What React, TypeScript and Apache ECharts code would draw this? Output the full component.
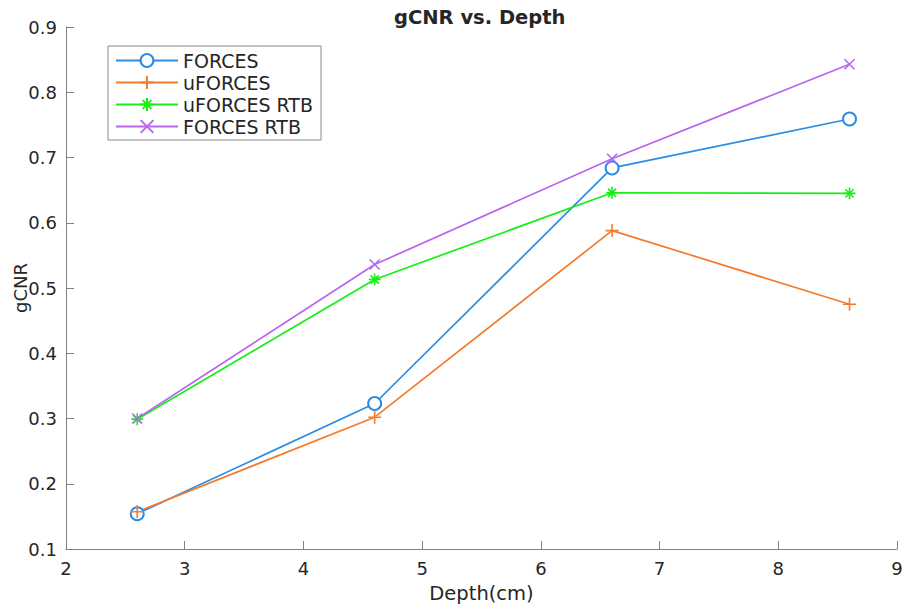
import React, { useEffect, useRef } from "react";
import * as echarts from "echarts";

const depths = [2.6, 4.6, 6.6, 8.6];
const seriesNames = ["FORCES", "uFORCES", "uFORCES RTB", "FORCES RTB"];
const forces = [0.154, 0.323, 0.684, 0.759];
const uForces = [0.157, 0.302, 0.588, 0.475];
const uForcesRtb = [0.299, 0.513, 0.646, 0.645];
const forcesRtb = [0.300, 0.536, 0.698, 0.843];
const xTicks = { min: 2, max: 9, interval: 1 };
const yTicks = { min: 0.1, max: 0.9, interval: 0.1 };
const title = "gCNR vs. Depth";
const xName = "Depth(cm)";
const yName = "gCNR";

const colors = ["#2b8de2", "#f47b2c", "#16ef16", "#b865f2"];
const PLUS = "path://M5,0L5,10M0,5L10,5";
const STAR = "path://M5,0L5,10M0,5L10,5M1.6,1.6L8.4,8.4M1.6,8.4L8.4,1.6";
const CROSS = "path://M0,0L10,10M0,10L10,0";
const FONT = "DejaVu Sans";
const TEXT = "#262626";
const AXIS = "#7f7f7f";

export default function App() {
  const ref = useRef<HTMLDivElement>(null);
  useEffect(() => {
    if (!ref.current) return;
    const chart = echarts.init(ref.current, undefined, { renderer: "svg" });
    const values = [forces, uForces, uForcesRtb, forcesRtb];
    const symbols = ["emptyCircle", PLUS, STAR, CROSS];
    const sizes = [13, 13, 12, 10];
    chart.setOption({
      animation: false,
      backgroundColor: "#ffffff",
      title: {
        text: title,
        left: 389,
        top: 2,
        textStyle: { fontFamily: FONT, fontSize: 19.5, fontWeight: "bold", color: TEXT },
      },
      legend: {
        orient: "vertical",
        left: 108,
        top: 46,
        padding: [4, 8, 3, 7],
        itemWidth: 62,
        itemHeight: 16,
        itemGap: 1,
        borderColor: "#8a8a8a",
        borderWidth: 1,
        backgroundColor: "#ffffff",
        textStyle: { fontFamily: FONT, fontSize: 19, lineHeight: 21, color: TEXT },
        data: seriesNames,
      },
      grid: {
        left: 66,
        right: 7,
        top: 27,
        bottom: 62,
        containLabel: false,
        outerBoundsMode: "none",
      },
      xAxis: {
        type: "value",
        min: xTicks.min,
        max: xTicks.max,
        interval: xTicks.interval,
        name: xName,
        nameLocation: "middle",
        nameGap: 34,
        nameMoveOverlap: false,
        nameTextStyle: { fontFamily: FONT, fontSize: 19.5, color: TEXT },
        axisLine: { show: true, lineStyle: { color: AXIS, width: 1 } },
        axisTick: { show: true, inside: true, length: 8, lineStyle: { color: AXIS } },
        axisLabel: { fontFamily: FONT, fontSize: 18, color: TEXT, margin: 10 },
        splitLine: { show: false },
      },
      yAxis: {
        type: "value",
        min: yTicks.min,
        max: yTicks.max,
        interval: yTicks.interval,
        name: yName,
        nameLocation: "middle",
        nameGap: 37,
        nameRotate: 90,
        nameMoveOverlap: false,
        nameTextStyle: { fontFamily: FONT, fontSize: 18, color: TEXT },
        axisLine: { show: true, lineStyle: { color: AXIS, width: 1 } },
        axisTick: { show: true, inside: true, length: 8, lineStyle: { color: AXIS } },
        axisLabel: {
          fontFamily: FONT,
          fontSize: 18,
          color: TEXT,
          margin: 9,
          formatter: (v: number) => v.toFixed(1),
        },
        splitLine: { show: false },
      },
      series: seriesNames.map((name, i) => ({
        name,
        type: "line",
        data: depths.map((d, j) => [d, values[i][j]]),
        symbol: symbols[i],
        symbolSize: sizes[i],
        showAllSymbol: true,
        lineStyle: { color: colors[i], width: 1.7 },
        itemStyle: {
          color: colors[i],
          borderColor: colors[i],
          borderWidth: 1.6,
        },
        emphasis: { disabled: true },
      })),
    });
    return () => chart.dispose();
  }, []);
  return (
    <div
      ref={ref}
      style={{ position: "absolute", left: 0, top: 0, width: 904, height: 611 }}
    />
  );
}
